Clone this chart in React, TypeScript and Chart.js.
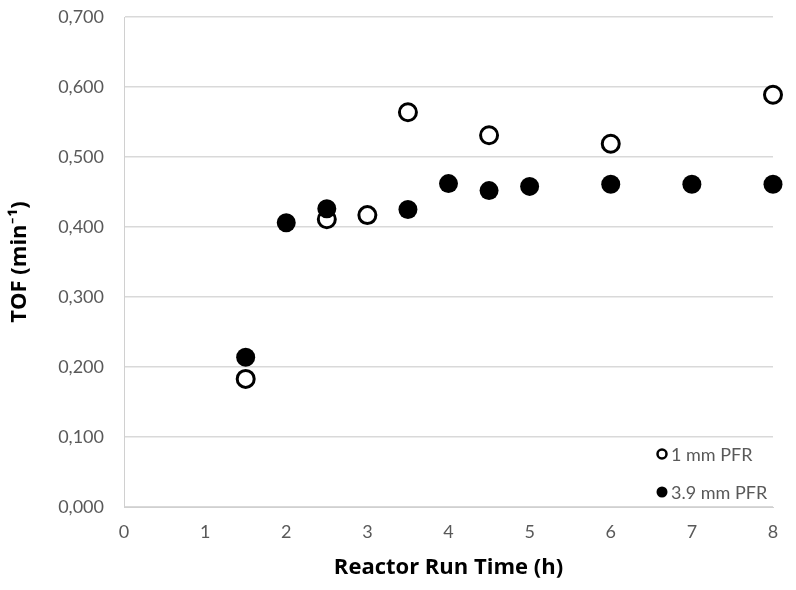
import React, { useEffect, useRef } from "react";
import { Chart, registerables } from "chart.js";

Chart.register(...registerables);

const runTimes1mm = [1.5, 2.5, 3, 3.5, 4.5, 6, 8];
const tof1mm = [0.183, 0.411, 0.417, 0.564, 0.531, 0.519, 0.589];

const runTimes39mm = [1.5, 2, 2.5, 3.5, 4, 4.5, 5, 6, 7, 8];
const tof39mm = [0.214, 0.406, 0.426, 0.425, 0.462, 0.452, 0.458, 0.461, 0.461, 0.461];

const seriesLabels = ["1 mm PFR", "3.9 mm PFR"];
const xTitle = "Reactor Run Time (h)";
const yTitle = "TOF (min\u207B\u00B9)";

const FONT = "Lato, 'Open Sans', sans-serif";
const TITLE_FONT = "'Open Sans', Lato, sans-serif";
const GREY = "#595959";

const legendPlugin = {
  id: "insideLegend",
  afterDraw(chart: any) {
    const { ctx, chartArea } = chart;
    ctx.save();
    ctx.font = `18px ${FONT}`;
    ctx.textBaseline = "middle";
    const x = chartArea.right - 111;
    const rows = [chartArea.bottom - 53, chartArea.bottom - 15];
    chart.data.datasets.forEach((ds: any, i: number) => {
      const y = rows[i];
      ctx.beginPath();
      ctx.arc(x, y, i === 0 ? 4.5 : 5.5, 0, Math.PI * 2);
      if (i === 0) {
        ctx.fillStyle = "#ffffff";
        ctx.fill();
        ctx.lineWidth = 2.5;
        ctx.strokeStyle = "#000000";
        ctx.stroke();
      } else {
        ctx.fillStyle = "#000000";
        ctx.fill();
      }
      ctx.fillStyle = GREY;
      ctx.textAlign = "left";
      ctx.fillText(ds.label, x + 9, y + 1);
    });
    ctx.restore();
  },
};

export default function App() {
  const ref = useRef<HTMLCanvasElement | null>(null);

  useEffect(() => {
    if (!ref.current) return;
    const chart = new Chart(ref.current, {
      type: "scatter",
      data: {
        datasets: [
          {
            label: seriesLabels[0],
            data: runTimes1mm.map((x, i) => ({ x, y: tof1mm[i] })),
            pointRadius: 8.5,
            pointBorderWidth: 3,
            pointBackgroundColor: "#ffffff",
            pointBorderColor: "#000000",
            clip: false,
            order: 2,
          },
          {
            label: seriesLabels[1],
            data: runTimes39mm.map((x, i) => ({ x, y: tof39mm[i] })),
            pointRadius: 9.5,
            pointBorderWidth: 0,
            pointBackgroundColor: "#000000",
            pointBorderColor: "#000000",
            clip: false,
            order: 1,
          },
        ],
      },
      options: {
        animation: false,
        responsive: false,
        maintainAspectRatio: false,
        layout: { padding: { top: 17, right: 23, bottom: 0, left: 0 } },
        plugins: {
          legend: { display: false },
          tooltip: { enabled: false },
        },
        scales: {
          x: {
            type: "linear",
            min: 0,
            max: 8,
            ticks: {
              stepSize: 1,
              color: GREY,
              font: { family: FONT, size: 18 },
              padding: 14,
            },
            grid: { display: false, drawTicks: false },
            border: { display: true, color: "#d0d0d0", width: 1 },
            title: {
              display: true,
              text: xTitle,
              color: "#000000",
              font: { family: TITLE_FONT, size: 22, weight: "bold" },
              padding: { top: 0, bottom: 9 },
            },
            afterFit(scale: any) {
              scale.height = 83;
              scale.paddingLeft = 0;
              scale.paddingRight = 0;
            },
          },
          y: {
            type: "linear",
            min: 0,
            max: 0.7,
            ticks: {
              stepSize: 0.1,
              color: GREY,
              font: { family: FONT, size: 18 },
              padding: 20,
              callback: (v: any) => Number(v).toFixed(3).replace(".", ","),
            },
            grid: { color: "#d9d9d9", lineWidth: 1.5, drawTicks: false },
            border: { display: true, color: "#d0d0d0", width: 1 },
            title: {
              display: true,
              text: yTitle,
              color: "#000000",
              font: { family: TITLE_FONT, size: 22, weight: "bold" },
              padding: { top: 7, bottom: 0 },
            },
            afterFit(scale: any) {
              scale.width = 124;
              scale.paddingTop = 0;
              scale.paddingBottom = 0;
            },
          },
        },
      },
      plugins: [legendPlugin],
    });
    return () => chart.destroy();
  }, []);

  return (
    <div style={{ position: "fixed", left: 0, top: 0, width: 796, height: 590, background: "#fff" }}>
      <canvas ref={ref} width={796} height={590} style={{ width: 796, height: 590 }} />
    </div>
  );
}
